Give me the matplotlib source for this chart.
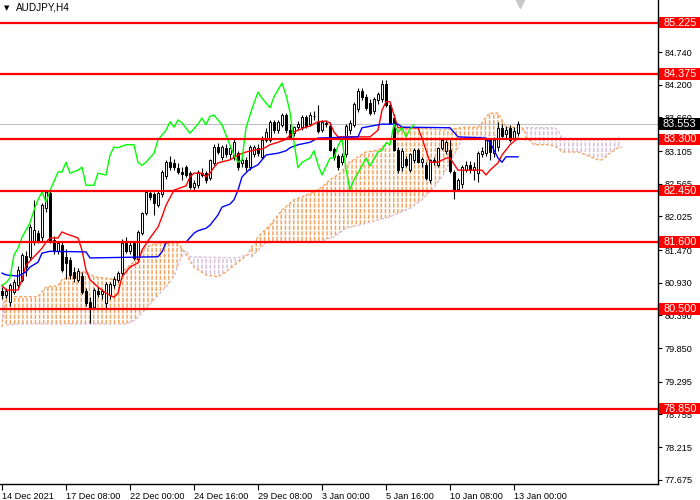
import numpy as np
import matplotlib.pyplot as plt
from matplotlib.patches import Polygon, Rectangle

plt.rcParams['font.family'] = ['Liberation Sans', 'DejaVu Sans']

# candles (H4 bars, 0 = 14 Dec 2021)
opens = [80.80, 80.72, 80.61, 80.78, 80.90, 80.98, 81.37, 81.36, 81.60, 81.75,
         81.69, 82.16, 82.41, 81.64, 81.45, 81.55, 81.35, 81.30, 81.10, 80.98,
         81.05, 80.80, 80.62, 80.53, 80.80, 80.75, 80.60, 80.72, 80.90, 80.98,
         81.09, 81.58, 81.46, 81.58, 81.32, 81.76, 82.08, 82.42, 82.40, 82.22,
         82.40, 82.70, 82.93, 82.90, 82.82, 82.76, 82.84, 82.74, 82.52, 82.55,
         82.74, 82.74, 82.66, 82.91, 83.18, 83.01, 83.15, 83.05, 83.01, 83.07,
         82.91, 82.95, 82.84, 83.05, 83.16, 83.01, 83.29, 83.29, 83.59, 83.45,
         83.54, 83.70, 83.45, 83.40, 83.50, 83.50, 83.66, 83.55, 83.68, 83.58,
         83.45, 83.57, 83.52, 83.14, 83.02, 82.93, 83.05, 83.45, 83.54, 83.80,
         84.10, 84.00, 83.90, 83.76, 83.95, 83.96, 84.22, 83.87, 83.65, 83.12,
         82.84, 82.98, 82.80, 82.96, 83.12, 82.93, 82.88, 82.63, 82.95, 82.88,
         83.16, 83.10, 83.12, 82.76, 82.48, 82.56, 82.80, 82.88, 82.80, 82.75,
         83.05, 83.08, 83.28, 83.08, 83.18, 83.48, 83.38, 83.48, 83.32, 83.40]
highs = [80.86, 80.84, 80.93, 80.99, 81.20, 81.42, 81.45, 81.90, 82.30, 81.80,
         82.25, 82.45, 82.45, 81.70, 81.62, 81.60, 81.48, 81.36, 81.19, 81.18,
         81.10, 80.85, 80.70, 80.85, 80.86, 80.82, 80.95, 80.95, 81.05, 81.12,
         81.65, 81.69, 81.60, 81.62, 81.80, 82.10, 82.45, 82.46, 82.43, 82.45,
         82.80, 82.95, 83.02, 82.98, 82.90, 82.84, 82.88, 82.78, 82.62, 82.80,
         82.82, 82.78, 82.98, 83.22, 83.24, 83.20, 83.22, 83.20, 83.30, 83.10,
         83.00, 83.00, 83.20, 83.20, 83.22, 83.35, 83.48, 83.62, 83.62, 83.62,
         83.74, 83.74, 83.55, 83.52, 83.60, 83.70, 83.70, 83.75, 83.76, 83.87,
         83.62, 83.62, 83.58, 83.18, 83.06, 83.08, 83.56, 83.62, 83.92, 84.14,
         84.15, 84.05, 83.96, 84.00, 84.08, 84.28, 84.28, 83.90, 83.72, 83.18,
         83.15, 83.02, 83.08, 83.15, 83.16, 83.00, 82.92, 82.98, 83.00, 83.18,
         83.32, 83.28, 83.28, 82.80, 82.66, 82.88, 82.94, 82.94, 82.92, 83.10,
         83.18, 83.32, 83.32, 83.34, 83.58, 83.56, 83.52, 83.54, 83.50, 83.60]
lows = [80.66, 80.68, 80.55, 80.74, 80.85, 80.95, 81.05, 81.30, 81.55, 81.58,
        81.62, 82.10, 81.58, 81.40, 81.40, 81.10, 81.00, 81.00, 80.95, 80.95,
        80.75, 80.55, 80.27, 80.50, 80.70, 80.66, 80.50, 80.66, 80.85, 80.95,
        81.05, 81.42, 81.40, 81.30, 81.28, 81.72, 82.05, 82.30, 82.05, 82.18,
        82.35, 82.65, 82.80, 82.80, 82.72, 82.62, 82.68, 82.48, 82.45, 82.50,
        82.68, 82.58, 82.62, 82.88, 83.05, 82.95, 83.00, 82.98, 82.95, 82.80,
        82.85, 82.78, 82.80, 83.00, 83.02, 82.98, 83.25, 83.25, 83.40, 83.40,
        83.50, 83.40, 83.30, 83.35, 83.45, 83.46, 83.48, 83.52, 83.62, 83.40,
        83.42, 83.50, 83.10, 82.95, 82.80, 82.88, 83.00, 83.38, 83.50, 83.75,
        83.95, 83.78, 83.70, 83.72, 83.88, 83.92, 83.84, 83.55, 83.10, 82.74,
        82.78, 82.85, 82.76, 82.90, 82.90, 82.85, 82.62, 82.58, 82.88, 82.85,
        83.12, 83.05, 82.74, 82.32, 82.44, 82.50, 82.76, 82.74, 82.62, 82.60,
        83.00, 83.02, 82.95, 83.00, 83.10, 83.30, 83.32, 83.25, 83.28, 83.36]
closes = [80.72, 80.80, 80.89, 80.94, 81.14, 81.39, 81.19, 81.85, 81.80, 81.62,
          82.21, 82.43, 81.60, 81.45, 81.58, 81.14, 81.26, 81.06, 81.01, 81.12,
          80.78, 80.60, 80.52, 80.81, 80.74, 80.79, 80.91, 80.91, 81.00, 81.09,
          81.59, 81.46, 81.55, 81.34, 81.77, 82.08, 82.43, 82.35, 82.25, 82.42,
          82.76, 82.92, 82.84, 82.85, 82.76, 82.72, 82.71, 82.51, 82.58, 82.76,
          82.71, 82.63, 82.96, 83.17, 83.09, 83.17, 83.05, 83.16, 83.25, 82.84,
          82.96, 82.84, 83.17, 83.17, 83.08, 83.29, 83.42, 83.59, 83.45, 83.58,
          83.70, 83.45, 83.34, 83.50, 83.56, 83.67, 83.52, 83.70, 83.69, 83.44,
          83.58, 83.55, 83.12, 83.00, 82.84, 83.03, 83.52, 83.57, 83.88, 84.10,
          84.00, 83.82, 83.74, 83.97, 84.05, 84.22, 83.87, 83.57, 83.13, 82.80,
          83.10, 82.88, 83.05, 83.12, 82.93, 82.98, 82.66, 82.95, 82.93, 83.15,
          83.28, 83.25, 82.77, 82.47, 82.62, 82.84, 82.88, 82.80, 82.85, 83.07,
          83.10, 83.28, 83.09, 83.28, 83.48, 83.36, 83.45, 83.29, 83.44, 83.553]

# Ichimoku lines
tenkan_bar = [0, 1, 4, 5, 6, 8, 10, 11, 12, 14, 15, 16, 19, 20, 21, 22, 24, 26, 28, 29,
              30, 32, 34, 35, 37, 39, 40, 41, 43, 46, 47, 48, 50, 51, 52, 53, 54, 57, 59, 61,
              63, 65, 66, 67, 69, 71, 72, 73, 74, 76, 77, 79, 81, 82, 83, 84, 92, 94, 95, 96,
              97, 98, 99, 104, 105, 107, 109, 111, 112, 114, 120, 121, 122, 124, 125, 127, 129]
tenkan_val = [80.89, 80.81, 80.81, 80.98, 81.22, 81.36, 81.50, 81.60, 81.67, 81.67,
              81.77, 81.74, 81.67, 81.47, 81.14, 80.98, 80.86, 80.76, 80.69, 80.76,
              81.03, 81.19, 81.26, 81.47, 81.67, 81.85, 82.02, 82.21, 82.46, 82.53,
              82.68, 82.74, 82.74, 82.68, 82.74, 82.84, 82.91, 82.96, 83.04, 83.09,
              83.12, 83.14, 83.17, 83.21, 83.25, 83.30, 83.37, 83.42, 83.45, 83.50,
              83.52, 83.59, 83.60, 83.57, 83.42, 83.34, 83.34, 83.45, 83.78, 83.92,
              83.92, 83.70, 83.49, 83.49, 83.32, 82.92, 82.92, 82.99, 82.99, 82.79,
              82.79, 82.71, 82.79, 82.91, 83.04, 83.21, 83.32]
kijun_bar = [0, 1, 4, 6, 7, 9, 10, 12, 21, 22, 39, 40, 41, 42, 46, 48, 49, 51, 52, 54,
             55, 57, 58, 59, 60, 62, 64, 65, 66, 69, 71, 72, 74, 77, 79, 89, 90, 95, 99, 100,
             112, 114, 121, 122, 123, 124, 125, 126, 129]
kijun_val = [81.09, 81.06, 81.04, 81.11, 81.19, 81.27, 81.42, 81.45, 81.44, 81.34,
             81.36, 81.44, 81.59, 81.60, 81.60, 81.75, 81.79, 81.83, 81.88, 82.05,
             82.18, 82.23, 82.30, 82.46, 82.68, 82.81, 82.88, 82.96, 83.04, 83.07,
             83.11, 83.16, 83.21, 83.25, 83.32, 83.34, 83.49, 83.55, 83.55, 83.50,
             83.49, 83.34, 83.32, 83.25, 83.12, 82.99, 82.92, 83.01, 83.01]
chikou_bar = [0, 1, 2, 3, 4, 5, 6, 7, 8, 9, 10, 11, 12, 14, 15, 16, 17, 19, 20, 21,
              23, 24, 26, 27, 28, 29, 31, 33, 34, 35, 36, 38, 39, 41, 42, 43, 44, 45, 47, 49,
              50, 51, 52, 53, 55, 56, 58, 59, 60, 61, 62, 63, 64, 65, 67, 68, 70, 71, 72, 73,
              74, 75, 77, 78, 79, 80, 82, 83, 84, 85, 86, 87, 88, 90, 91, 92, 94, 95, 96, 97,
              98, 99, 100, 101, 102, 103]
chikou_val = [80.89, 80.93, 81.01, 81.39, 81.50, 81.68, 81.80, 81.92, 82.13, 82.30,
              82.43, 82.26, 82.45, 82.76, 82.76, 82.92, 82.74, 82.79, 82.84, 82.54,
              82.54, 82.74, 82.71, 83.04, 83.17, 83.16, 83.21, 83.21, 82.92, 82.87,
              82.92, 83.07, 83.29, 83.45, 83.59, 83.50, 83.62, 83.57, 83.40, 83.55,
              83.65, 83.54, 83.68, 83.70, 83.54, 83.37, 83.04, 82.92, 82.96, 83.49,
              83.70, 83.90, 84.08, 83.98, 83.82, 84.00, 84.23, 84.03, 83.75, 83.25,
              82.83, 82.92, 82.99, 83.11, 82.88, 82.71, 82.99, 82.99, 83.19, 83.32,
              82.80, 82.47, 82.63, 82.86, 82.99, 82.86, 83.09, 83.12, 83.24, 83.21,
              83.55, 83.42, 83.49, 83.34, 83.47, 83.54]
span_a_bar = [0, 0.5, 1, 9, 10, 11, 14, 15, 16, 19, 21, 23, 29, 30, 32, 34, 36, 39, 44, 45.5,
              48, 51, 54, 56, 59, 61.5, 62, 64, 67, 70, 73, 75, 78, 80, 82, 85, 86, 89, 91, 94,
              95, 97, 99, 100, 104, 110, 116, 119, 120, 121, 122, 124, 125, 126, 130, 130.5,
              131, 133, 137, 139, 140, 144, 146, 149, 150, 152, 154, 155]
span_a_val = [80.20, 80.53, 80.70, 80.70, 80.78, 80.86, 80.88, 80.98, 81.01, 81.11,
              81.11, 81.03, 80.98, 81.11, 81.22, 81.34, 81.52, 81.59, 81.59, 81.45,
              81.19, 81.06, 81.03, 81.11, 81.27, 81.40, 81.47, 81.69, 81.88, 82.13,
              82.30, 82.35, 82.43, 82.51, 82.63, 82.76, 82.88, 83.01, 83.09, 83.12,
              83.17, 83.29, 83.42, 83.45, 83.49, 83.45, 83.50, 83.50, 83.57, 83.67,
              83.73, 83.73, 83.62, 83.50, 83.49, 83.46, 83.34, 83.21, 83.21, 83.16,
              83.09, 83.09, 83.04, 82.96, 82.96, 83.07, 83.16, 83.17]
span_b_bar = [0, 0.5, 1, 4, 31, 33, 35, 38, 41, 43, 44, 45.5, 46, 47, 59, 61.5, 62.5, 64, 66, 69,
              79, 83, 86, 92, 97, 102, 105, 108, 110, 112, 114, 115, 118, 124, 130, 130.5,
              131, 138, 139, 140, 148, 155]
span_b_val = [80.86, 80.53, 80.23, 80.25, 80.25, 80.30, 80.43, 80.65, 80.86, 81.03,
              81.22, 81.45, 81.46, 81.36, 81.34, 81.40, 81.36, 81.47, 81.59, 81.60,
              81.60, 81.69, 81.83, 81.93, 82.02, 82.16, 82.30, 82.51, 82.68, 82.92,
              83.16, 83.32, 83.34, 83.37, 83.44, 83.46, 83.49, 83.49, 83.45, 83.32,
              83.29, 83.32]
cloud_cross = [0, 0.5, 45.5, 61.5, 130.5, 155]

levels = [85.225, 84.375, 83.300, 82.450, 81.600, 80.500, 78.850]
last_price = 83.553
price_ticks = [85.280, 84.740, 84.200, 83.660, 83.105, 82.565, 82.025, 81.470,
               80.930, 80.390, 79.850, 79.295, 78.755, 78.215, 77.675]
date_ticks = [0, 16, 32, 48, 64, 80, 96, 112, 128]
date_labels = ['14 Dec 2021', '17 Dec 08:00', '22 Dec 00:00', '24 Dec 16:00',
               '29 Dec 08:00', '3 Jan 00:00', '5 Jan 16:00', '10 Jan 08:00', '13 Jan 00:00']

fig = plt.figure(figsize=(7, 5), dpi=100)
ax = fig.add_axes([0, 16 / 500, 658 / 700, 484 / 500])
ax.set_xlim(-0.5, 164)
ax.set_ylim(77.607, 85.600)

# cloud, hatched with dashed vertical strokes
plt.rcParams['hatch.linewidth'] = 1.0
ab = np.array(span_a_bar); av = np.array(span_a_val)
bb = np.array(span_b_bar); bv = np.array(span_b_val)
for s, e in zip(cloud_cross[:-1], cloud_cross[1:]):
    ma = (ab >= s) & (ab <= e)
    mb = (bb >= s) & (bb <= e)
    pts = list(zip(ab[ma], av[ma])) + list(zip(bb[mb], bv[mb]))[::-1]
    col = '#F4A460' if av[ma].mean() >= bv[mb].mean() else '#D8BFD8'
    stripes = Polygon(pts, closed=True, facecolor='none', edgecolor=col,
                      hatch='||||', lw=0, zorder=1)
    gaps = Polygon(pts, closed=True, facecolor='none', edgecolor='white',
                   hatch='---', lw=0, zorder=1.1)
    if hasattr(gaps, 'set_hatch_linewidth'):
        stripes.set_hatch_linewidth(1.1)
        gaps.set_hatch_linewidth(1.0)
    ax.add_patch(stripes)
    ax.add_patch(gaps)
ax.plot(span_a_bar, span_a_val, color='#F4A460', lw=1, ls=(0, (2, 1.5)), zorder=1.2)
ax.plot(span_b_bar, span_b_val, color='#D8BFD8', lw=1, ls=(0, (2, 1.5)), zorder=1.2)

ax.axhline(last_price, color='#C0C0C0', lw=0.8, zorder=1.5)

# candles
o = np.array(opens); h = np.array(highs); l = np.array(lows); c = np.array(closes)
x = np.arange(len(c))
ax.vlines(x, l, h, color='black', lw=0.8, zorder=3)
body = np.maximum(np.abs(c - o), 0.012)
face = ['white' if cc >= oo else 'black' for oo, cc in zip(o, c)]
ax.bar(x, body, bottom=np.minimum(o, c), width=0.7, color=face,
       edgecolor='black', lw=0.7, zorder=4)

ax.plot(tenkan_bar, tenkan_val, color='red', lw=1, zorder=5)
ax.plot(kijun_bar, kijun_val, color='blue', lw=1, zorder=5)
ax.plot(chikou_bar, chikou_val, color='#00FF00', lw=1, zorder=5)

for lv in levels:
    ax.axhline(lv, color='red', lw=1.6, zorder=6)

# axes look
for side in ['top', 'left']:
    ax.spines[side].set_visible(False)
ax.spines['right'].set_linewidth(1)
ax.spines['bottom'].set_linewidth(1)
ax.yaxis.tick_right()
ax.set_yticks(price_ticks)
ax.set_yticklabels([f'{p:.3f}' for p in price_ticks])
ax.tick_params(axis='y', length=3, width=0.8, pad=2, labelsize=6.6)
ax.set_xticks(date_ticks)
ax.set_xticklabels(date_labels, ha='left')
ax.tick_params(axis='x', length=4, width=0.8, pad=1.5, labelsize=6.6)

# price labels on the right
tr = ax.get_yaxis_transform()
bh = 11.5 / 60.55
for lv in levels:
    ax.add_patch(Rectangle((1.0015, lv - bh / 2), 0.0625, bh, transform=tr,
                           facecolor='red', edgecolor='none', clip_on=False, zorder=10))
    ax.text(1.033, lv, f'{lv:.3f}', transform=tr, color='white', fontsize=7.8,
            ha='center', va='center', zorder=11, clip_on=False)
ax.add_patch(Rectangle((1.0015, last_price - bh / 2), 0.0625, bh, transform=tr,
                       facecolor='black', edgecolor='none', clip_on=False, zorder=10))
ax.text(1.033, last_price, f'{last_price:.3f}', transform=tr, color='white', fontsize=7.8,
        ha='center', va='center', zorder=11, clip_on=False)

# shift marker and title
ax.plot([len(c) - 0.5], [85.55], marker='v', ms=7, color='#C8C8C8', zorder=7, clip_on=False)
fig.text(4 / 700, 1 - 8 / 500, '\u25BC', fontsize=5, va='center', ha='left',
         family=['DejaVu Sans'])
fig.text(16 / 700, 1 - 8 / 500, 'AUDJPY,H4', fontsize=7.2, va='center', ha='left')

fig.savefig('out.png', dpi=100)
